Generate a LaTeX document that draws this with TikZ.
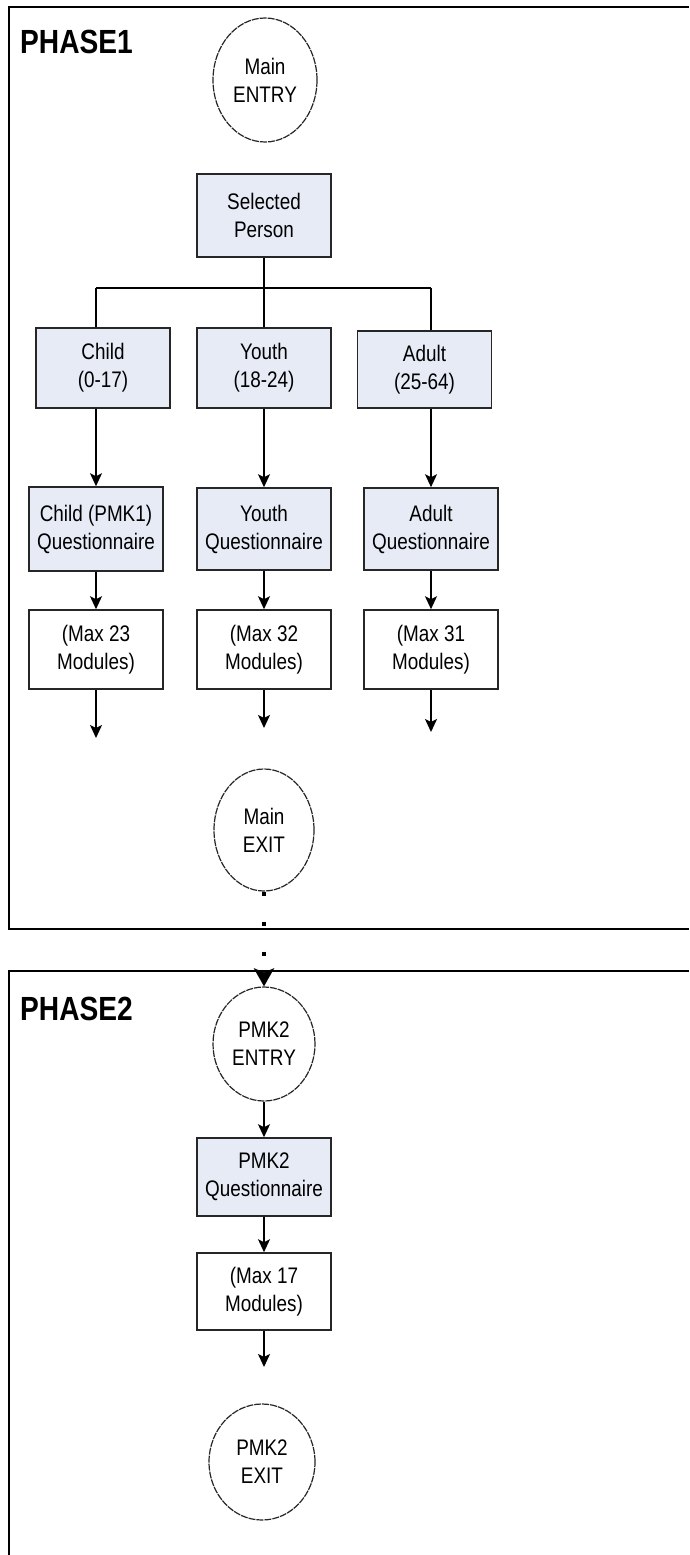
\documentclass[tikz,border=0pt]{standalone}
\usepackage{fontspec}
\setmainfont{Liberation Sans}[FakeStretch=0.84]
\usetikzlibrary{shapes.geometric,arrows.meta}
\definecolor{boxblue}{RGB}{230,235,246}
\begin{document}
\begin{tikzpicture}[x=1pt,y=-1pt,
  box/.style={draw=black!85, line width=1.6pt, minimum width=134pt, minimum height=80pt, inner sep=0pt, align=center, font=\fontsize{22.5}{28}\selectfont},
  qbox/.style={box, fill=boxblue},
  term/.style={ellipse, draw=black!85, line width=1.2pt, dash pattern=on 7pt off 1pt, inner sep=0pt, align=center, font=\fontsize{22.5}{28}\selectfont},
  link/.style={line width=1.6pt},
  arr/.style={line width=1.6pt, -{Stealth[width=12pt,length=13pt,inset=3pt]}},
  frame/.style={line width=2pt},
  phase/.style={anchor=base west, inner sep=0pt, font=\fontsize{33.5}{34}\selectfont\bfseries}
]
\useasboundingbox (0,0) rectangle (689,1555);
\fill[white] (0,0) rectangle (689,1555);

% frames
\draw[frame] (689,7) -- (9,7) -- (9,929) -- (689,929);
\draw[frame] (689,971) -- (9,971) -- (9,1555);
\node[phase] (p1) at (20,54) {PHASE1};
\node[phase] (p2) at (20,1020) {PHASE2};

% phase 1
\node[term, minimum width=104pt, minimum height=124pt] (mentry) at (265,80) {Main\\ENTRY};
\node[qbox, minimum height=83pt] (sel) at (264,215.5) {Selected\\Person};

\node[qbox] (child) at (103,368) {Child\\(0-17)};
\node[qbox] (youth) at (264,368) {Youth\\(18-24)};
\node[qbox, minimum height=77pt] (adult) at (424.5,369.5) {Adult\\(25-64)};

\node[qbox, minimum height=84pt] (childq) at (96,529) {Child (PMK1)\\Questionnaire};
\node[qbox, minimum height=82pt] (youthq) at (264,529) {Youth\\Questionnaire};
\node[qbox, minimum height=82pt] (adultq) at (431,529) {Adult\\Questionnaire};

\node[box, minimum height=79pt] (childm) at (96,649.5) {(Max 23\\Modules)};
\node[box, minimum height=79pt] (youthm) at (264,649.5) {(Max 32\\Modules)};
\node[box, minimum height=79pt] (adultm) at (431,649.5) {(Max 31\\Modules)};

\coordinate (childe) at (96,738);
\coordinate (youthe) at (264,728);
\coordinate (adulte) at (431,732);

\coordinate (split) at (264,288);
\draw[link] (sel.south) -- (split);
\draw[link] (split -| childq.north) -- (split -| adultq.north);
\draw[link] (split -| childq.north) -- (child.north -| childq.north);
\draw[link] (split) -- (youth.north);
\draw[link] (split -| adultq.north) -- (adult.north -| adultq.north);

\draw[arr] (child.south -| childq.north) -- (childq.north);
\draw[arr] (youth.south) -- (youthq.north);
\draw[arr] (adult.south -| adultq.north) -- (adultq.north);

\draw[arr] (childq.south) -- (childm.north);
\draw[arr] (youthq.south) -- (youthm.north);
\draw[arr] (adultq.south) -- (adultm.north);

\draw[arr] (childm.south) -- (childe);
\draw[arr] (youthm.south) -- (youthe);
\draw[arr] (adultm.south) -- (adulte);

\node[term, minimum width=100pt, minimum height=122pt] (mexit) at (264,830) {Main\\EXIT};

% phase 2
\node[term, minimum width=102pt, minimum height=114pt] (pentry) at (264,1044) {PMK2\\ENTRY};
\node[qbox, minimum height=78pt] (pq) at (264,1177) {PMK2\\Questionnaire};
\node[box, minimum height=77pt] (pm) at (264,1291.5) {(Max 17\\Modules)};
\coordinate (pme) at (264,1367);
\node[term, minimum width=106pt, minimum height=116pt] (pexit) at (262,1462) {PMK2\\EXIT};

\draw[line width=3.5pt, dash pattern=on 4pt off 26pt, -{Stealth[width=20pt,length=18pt,inset=4pt]}] (mexit.south) -- (pentry.north);
\draw[arr] (pentry.south) -- (pq.north);
\draw[arr] (pq.south) -- (pm.north);
\draw[arr] (pm.south) -- (pme);
\end{tikzpicture}
\end{document}
